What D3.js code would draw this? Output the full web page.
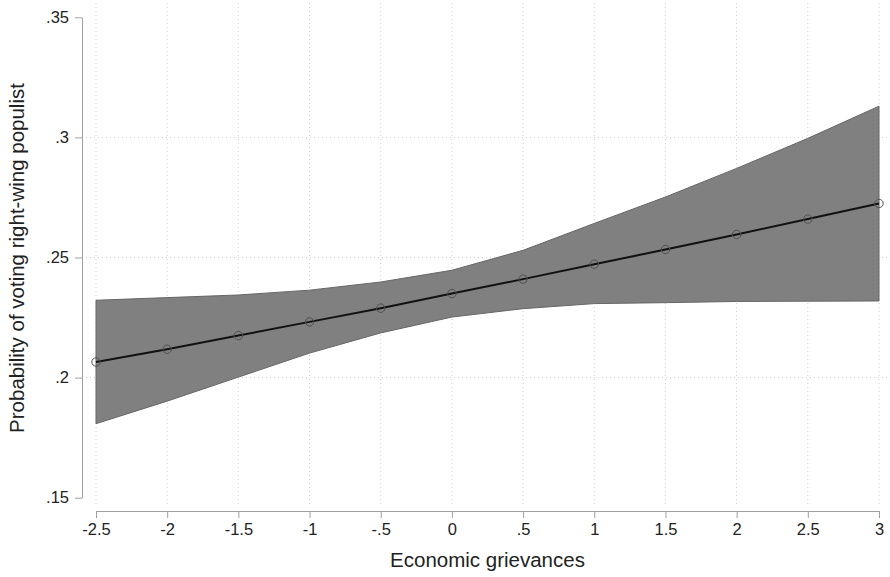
<!DOCTYPE html>
<html>
<head>
<meta charset="utf-8">
<script src="https://cdn.jsdelivr.net/npm/d3@7"></script>
<style>
	body { margin: 0; background: #fff; }
	svg { display: block; font-family: "Liberation Sans", Arial, sans-serif; }
</style>
</head>
<body>
<svg id="chart"></svg>
<script>

var w = 890;
var h = 577;

// economic grievances (x) and predicted probability with 95% CI
var grievances = [-2.5, -2, -1.5, -1, -0.5, 0, 0.5, 1, 1.5, 2, 2.5, 3];
var prob  = [0.2065, 0.2118, 0.2175, 0.2232, 0.2289, 0.2350, 0.2410, 0.2472, 0.2533, 0.2596, 0.2660, 0.2725];
var upper = [0.2322, 0.2333, 0.2344, 0.2364, 0.2398, 0.2447, 0.2530, 0.2642, 0.2752, 0.2871, 0.2996, 0.3130];
var lower = [0.1808, 0.1902, 0.2002, 0.2102, 0.2186, 0.2252, 0.2287, 0.2308, 0.2312, 0.2317, 0.2318, 0.2319];

var x_ticks = [-2.5, -2, -1.5, -1, -0.5, 0, 0.5, 1, 1.5, 2, 2.5, 3];
var x_labels = ['-2.5', '-2', '-1.5', '-1', '-.5', '0', '.5', '1', '1.5', '2', '2.5', '3'];
var y_ticks = [0.15, 0.2, 0.25, 0.3, 0.35];
var y_labels = ['.15', '.2', '.25', '.3', '.35'];
var y_grid = [0.2, 0.25, 0.3];

var svg = d3.select('#chart')
	.attr('width', w)
	.attr('height', h);

var x = d3.scaleLinear().domain([-2.5, 3]).range([96, 879]);
var y = d3.scaleLinear().domain([0.15, 0.35]).range([497.7, 17.3]);

var plot_left = 82, plot_right = 889, plot_top = 3, plot_bottom = 506;

// gridlines
svg.selectAll('.vgrid')
	.data(x_ticks)
	.enter()
	.append('line')
	.attr('class', 'vgrid')
	.attr('x1', d => x(d)).attr('x2', d => x(d))
	.attr('y1', plot_top).attr('y2', plot_bottom)
	.style('stroke', '#cfcfcf')
	.style('stroke-width', 1)
	.style('stroke-dasharray', '1,3');

svg.selectAll('.hgrid')
	.data(y_grid)
	.enter()
	.append('line')
	.attr('class', 'hgrid')
	.attr('x1', plot_left).attr('x2', plot_right)
	.attr('y1', d => y(d)).attr('y2', d => y(d))
	.style('stroke', '#cfcfcf')
	.style('stroke-width', 1)
	.style('stroke-dasharray', '1,3');

var rows = grievances.map(function(g, i) {
	return { g: g, p: prob[i], lo: lower[i], hi: upper[i] };
});

// confidence band
var area = d3.area()
	.x(d => x(d.g))
	.y0(d => y(d.lo))
	.y1(d => y(d.hi));

svg.append('path')
	.datum(rows)
	.attr('d', area)
	.attr('fill', '#808080')
	.attr('stroke', '#666')
	.attr('stroke-width', 1);

// prediction line
var line = d3.line()
	.x(d => x(d.g))
	.y(d => y(d.p));

svg.append('path')
	.datum(rows)
	.attr('d', line)
	.attr('fill', 'none')
	.attr('stroke', '#111')
	.attr('stroke-width', 2);

svg.selectAll('.pt')
	.data(rows)
	.enter()
	.append('circle')
	.attr('class', 'pt')
	.attr('cx', d => x(d.g))
	.attr('cy', d => y(d.p))
	.attr('r', 4.2)
	.attr('fill', 'none')
	.attr('stroke', '#505050')
	.attr('stroke-width', 1);

// axes
var xAxis = d3.axisBottom(x)
	.tickValues(x_ticks)
	.tickFormat((d, i) => x_labels[i])
	.tickSize(7)
	.tickSizeOuter(0)
	.tickPadding(5);

var gx = svg.append('g')
	.attr('transform', 'translate(0,511)')
	.call(xAxis);

var yAxis = d3.axisLeft(y)
	.tickValues(y_ticks)
	.tickFormat((d, i) => y_labels[i])
	.tickSize(7)
	.tickSizeOuter(0)
	.tickPadding(6);

var gy = svg.append('g')
	.attr('transform', 'translate(82,0)')
	.call(yAxis);

[gx, gy].forEach(function(g) {
	g.select('.domain').attr('stroke', '#a0a0a0');
	g.selectAll('.tick line').attr('stroke', '#a0a0a0');
	g.selectAll('.tick text')
		.attr('fill', '#222')
		.style('font-size', '16.5px')
		.style('font-family', '"Liberation Sans", Arial, sans-serif');
});

// axis titles
svg.append('text')
	.attr('x', x(0.25))
	.attr('y', 567)
	.attr('text-anchor', 'middle')
	.attr('fill', '#222')
	.style('font-size', '20.5px')
	.text('Economic grievances');

svg.append('text')
	.attr('transform', 'translate(24,258) rotate(-90)')
	.attr('text-anchor', 'middle')
	.attr('fill', '#222')
	.style('font-size', '20.5px')
	.text('Probability of voting right-wing populist');

</script>
</body>
</html>
